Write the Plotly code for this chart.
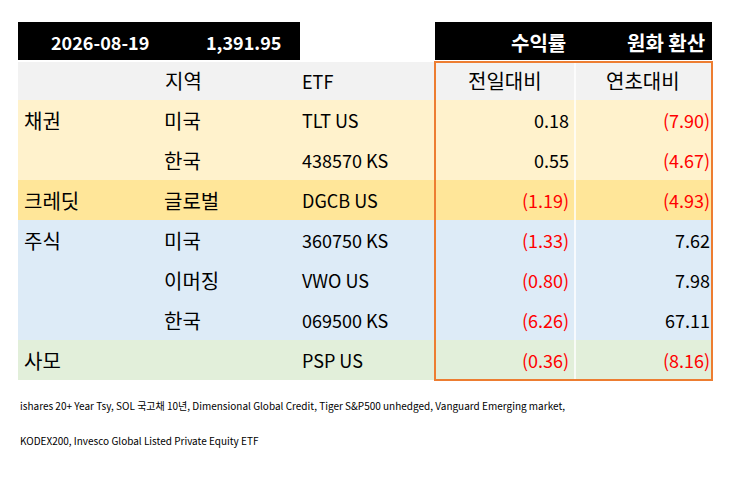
import plotly.graph_objects as go

date_label = "2026-08-19"
fx_label = "1,391.95"
group_labels = ["채권", "", "크레딧", "주식", "", "", "사모"]
regions = ["미국", "한국", "글로벌", "미국", "이머징", "한국", ""]
etfs = ["TLT US", "438570 KS", "DGCB US", "360750 KS", "VWO US", "069500 KS", "PSP US"]
daily = [0.18, 0.55, -1.19, -1.33, -0.80, -6.26, -0.36]
ytd = [-7.90, -4.67, -4.93, 7.62, 7.98, 67.11, -8.16]
row_fill = ["#fff2cc", "#fff2cc", "#ffe699", "#ddebf7", "#ddebf7", "#ddebf7", "#e2efda"]
notes = [
    "ishares 20+ Year Tsy, SOL 국고채 10년, Dimensional Global Credit, Tiger S&P500 unhedged, Vanguard Emerging market,",
    "KODEX200, Invesco Global Listed Private Equity ETF",
]

FONT = "Noto Sans CJK KR, Noto Sans, sans-serif"
X0, X1, XSPLIT, XBOX = 18, 712, 575, 435
Y_HEAD, ROW_H = 62, 40
ROW0 = 100
OFF = 8  # page body margin

shapes, ann = [], []


def fmt(v):
    return f"({abs(v):,.2f})" if v < 0 else f"{v:,.2f}"


def text(x, y, s, size=20, color="#000", anchor="left", bold=False):
    ann.append(dict(x=x, y=y, text=f"<b>{s}</b>" if bold else s, showarrow=False,
                    xanchor=anchor, yanchor="middle", font=dict(size=size, color=color, family=FONT)))


shapes.append(dict(type="rect", x0=X0, x1=300, y0=22, y1=60, fillcolor="#000", line_width=0))
shapes.append(dict(type="rect", x0=XBOX, x1=X1, y0=22, y1=60, fillcolor="#000", line_width=0))
text(100, 42, date_label, 18, "#fff", "center", True)
text(243, 42, fx_label, 18, "#fff", "center", True)
text(568, 42, "수익률", 20, "#fff", "right", True)
text(707, 42, "원화 환산", 20, "#fff", "right", True)

shapes.append(dict(type="rect", x0=X0, x1=X1, y0=Y_HEAD, y1=ROW0, fillcolor="#f2f2f2", line_width=0))
text(183, 80, "지역", 20, anchor="center")
text(300, 81, "ETF", 18)
text(505, 80, "전일대비", 20, anchor="center")
text(643, 80, "연초대비", 20, anchor="center")

for i in range(len(etfs)):
    y0 = ROW0 + i * ROW_H
    ym = y0 + ROW_H / 2
    shapes.append(dict(type="rect", x0=X0, x1=X1, y0=y0, y1=y0 + ROW_H, fillcolor=row_fill[i], line_width=0))
    if group_labels[i]:
        text(22, ym, group_labels[i])
    if regions[i]:
        text(162, ym, regions[i])
    text(300, ym, etfs[i], 18)
    text(571, ym, fmt(daily[i]), 18, "#ff0000" if daily[i] < 0 else "#000", "right")
    text(712, ym, fmt(ytd[i]), 18, "#ff0000" if ytd[i] < 0 else "#000", "right")

y_end = ROW0 + len(etfs) * ROW_H
shapes.append(dict(type="line", x0=XSPLIT, x1=XSPLIT, y0=Y_HEAD, y1=y_end, line=dict(color="#fff", width=1.5)))
shapes.append(dict(type="rect", x0=XBOX, x1=X1, y0=Y_HEAD, y1=y_end, line=dict(color="#ed7d31", width=2)))

text(18, 405, notes[0], 10)
text(18, 440, notes[1], 10)

fig = go.Figure()
fig.update_layout(
    width=732, height=481, margin=dict(l=0, r=0, t=0, b=0),
    paper_bgcolor="#fff", plot_bgcolor="#fff",
    xaxis=dict(range=[OFF, 732 + OFF], visible=False, fixedrange=True),
    yaxis=dict(range=[481 + OFF, OFF], visible=False, fixedrange=True),
    shapes=shapes, annotations=ann, showlegend=False,
)
fig.write_html("out.html")
